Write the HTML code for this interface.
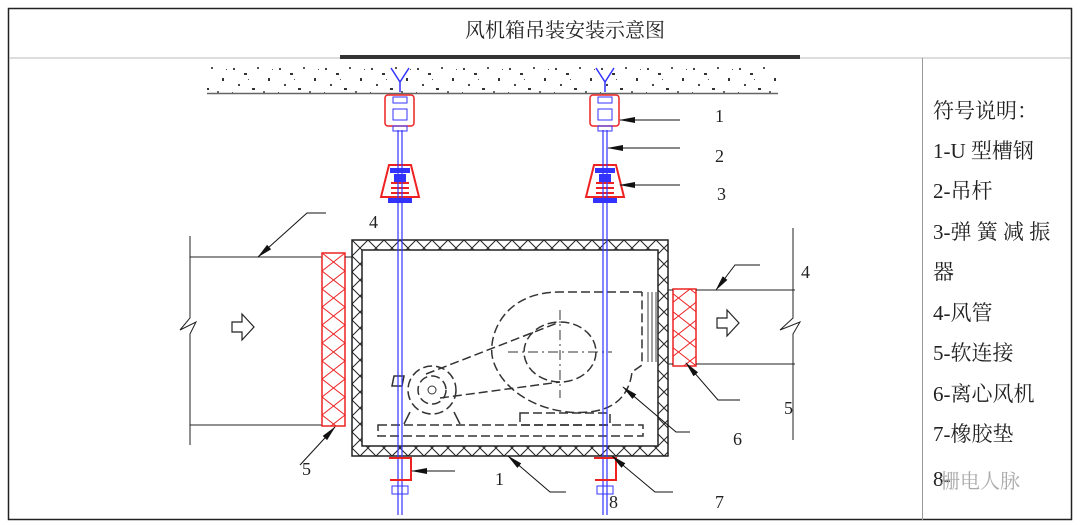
<!DOCTYPE html>
<html><head><meta charset="utf-8"><style>
html,body{margin:0;padding:0;background:#fff}
svg{display:block}
text{font-family:"Liberation Serif","Noto Serif CJK SC",serif;fill:#222}
</style></head><body>
<svg width="1080" height="528" viewBox="0 0 1080 528" xmlns="http://www.w3.org/2000/svg">
<defs>
<pattern id="spk" width="46" height="32" patternUnits="userSpaceOnUse">
<rect x="3" y="4" width="2" height="2" fill="#444"/><rect x="14" y="9" width="3" height="2" fill="#333"/>
<rect x="27" y="3" width="2" height="2" fill="#555"/><rect x="38" y="14" width="2" height="3" fill="#333"/>
<rect x="8" y="20" width="2" height="2" fill="#444"/><rect x="22" y="24" width="3" height="2" fill="#333"/>
<rect x="33" y="27" width="2" height="2" fill="#666"/><rect x="18" y="15" width="1" height="1" fill="#555"/>
<rect x="42" y="5" width="1" height="1" fill="#555"/><rect x="2" y="28" width="1" height="1" fill="#555"/>
</pattern>
<pattern id="xb" width="16" height="16" patternUnits="userSpaceOnUse">
<path d="M0 0L16 16M16 0L0 16" stroke="#222" stroke-width="1"/>
</pattern>
<pattern id="xr" width="23" height="18" patternUnits="userSpaceOnUse" x="322" y="253">
<path d="M0 0L23 18M23 0L0 18" stroke="#e22" stroke-width="1"/>
</pattern>
<marker id="ar" markerWidth="16" markerHeight="8" refX="15" refY="4" orient="auto" markerUnits="userSpaceOnUse">
<path d="M0 1L16 4L0 7Z" fill="#111"/>
</marker>
</defs>
<!-- frame -->
<rect x="8.5" y="8.5" width="1063" height="511" fill="none" stroke="#222" stroke-width="1.5"/>
<line x1="9" y1="58" x2="1071" y2="58" stroke="#bbb" stroke-width="1"/>
<rect x="340" y="55" width="460" height="4" fill="#333"/>
<text x="565" y="37" font-size="20" text-anchor="middle">风机箱吊装安装示意图</text>
<line x1="922.5" y1="58" x2="922.5" y2="520" stroke="#999" stroke-width="1"/>
<!-- legend -->
<g font-size="21">
<text x="933" y="118">符号说明：</text>
<text x="933" y="158">1-U 型槽钢</text>
<text x="933" y="198">2-吊杆</text>
<text x="933" y="239">3-弹 簧 减 振</text>
<text x="933" y="279">器</text>
<text x="933" y="320">4-风管</text>
<text x="933" y="360">5-软连接</text>
<text x="933" y="401">6-离心风机</text>
<text x="933" y="441">7-橡胶垫</text>
<text x="933" y="486">8-</text>
</g>
<text x="940" y="488" font-size="20" style="fill:#aaa" font-family="Noto Sans CJK SC,sans-serif">栅电人脉</text>
<!-- ceiling -->
<rect x="207" y="63" width="571" height="30" fill="url(#spk)"/>
<line x1="207" y1="93.5" x2="778" y2="93.5" stroke="#666" stroke-width="1.5"/>
<!-- ducts left -->
<path d="M190 236V318L180 330L196 322L190 334V445" fill="none" stroke="#222" stroke-width="1"/>
<line x1="190" y1="257" x2="322" y2="257" stroke="#222"/>
<line x1="190" y1="425" x2="322" y2="425" stroke="#222"/>
<path d="M232 322h10v-8l12 13l-12 13v-8h-10z" fill="#fff" stroke="#222" stroke-width="1.2"/>
<rect x="322" y="253" width="23" height="173" fill="url(#xr)" stroke="#e22" stroke-width="1.5"/>
<line x1="345" y1="257" x2="352" y2="257" stroke="#222"/>
<!-- right duct -->
<rect x="673" y="289" width="23" height="77" fill="url(#xr)" stroke="#e22" stroke-width="1.5"/>
<line x1="696" y1="290" x2="795" y2="290" stroke="#222"/>
<line x1="696" y1="364" x2="795" y2="364" stroke="#222"/>
<line x1="668" y1="290" x2="673" y2="290" stroke="#222"/>
<line x1="668" y1="364" x2="673" y2="364" stroke="#222"/>
<path d="M793 228V318L780 330L800 322L793 334V440" fill="none" stroke="#222"/>
<path d="M717 318h10v-8l12 13l-12 13v-8h-10z" fill="#fff" stroke="#222" stroke-width="1.2"/>
<!-- box -->
<path d="M352 240H668V456H352Z M362 250V446H658V250Z" fill="url(#xb)" fill-rule="evenodd" stroke="#222" stroke-width="1.5"/>
<!-- fan -->
<g fill="none" stroke="#333" stroke-width="1.5" stroke-dasharray="9 4">
<path d="M642 292H560C500 292 487 340 493 360C505 400 560 420 600 410C620 405 630 390 632 372L642 365V292"/>
<ellipse cx="560" cy="352" rx="36" ry="30"/>
<circle cx="432" cy="390" r="24"/><circle cx="432" cy="390" r="14"/>
<path d="M426 374L560 322M440 398L560 382"/>
<rect x="378" y="425" width="265" height="11"/>
<rect x="520" y="413" width="90" height="12"/>
</g>
<g stroke="#333" stroke-width="1" stroke-dasharray="10 4 2 4"><line x1="560" y1="310" x2="560" y2="398"/><line x1="508" y1="352" x2="612" y2="352"/></g>
<circle cx="432" cy="390" r="4" fill="none" stroke="#333"/>
<path d="M394 376h10l-2 10h-10z M410 412l-6 12 M454 412l6 12" fill="none" stroke="#333" stroke-width="1.5"/>
<g stroke="#444"><line x1="648" y1="292" x2="648" y2="362"/><line x1="652" y1="292" x2="652" y2="362"/><line x1="656" y1="292" x2="656" y2="362"/></g>
<!-- hangers -->
<g id="h">
<path d="M391 68L400 82L409 68M400 82V92" fill="none" stroke="#33f" stroke-width="1.5"/>
<rect x="385" y="95" width="29" height="31" rx="3" fill="#fff" stroke="#e22" stroke-width="1.5"/>
<rect x="393" y="97" width="14" height="6" fill="none" stroke="#33f"/>
<rect x="393" y="109" width="14" height="11" fill="none" stroke="#33f"/>
<rect x="393" y="126" width="14" height="5" fill="none" stroke="#33f"/>
<path d="M389 165H411L419 197H381Z" fill="#fff" stroke="#e22" stroke-width="2"/>
<rect x="390" y="168" width="20" height="5" fill="#33f"/>
<rect x="394" y="174" width="12" height="8" fill="#33f"/>
<rect x="388" y="198" width="24" height="5" fill="#33f"/>
<g stroke="#e22" stroke-width="2"><line x1="391" y1="183" x2="409" y2="183"/><line x1="391" y1="188" x2="409" y2="188"/><line x1="391" y1="193" x2="409" y2="193"/></g>
<line x1="398" y1="130" x2="398" y2="515" stroke="#33f" stroke-width="1.2"/>
<line x1="402" y1="130" x2="402" y2="515" stroke="#33f" stroke-width="1.2"/>
<path d="M389 458H411V480H390" fill="none" stroke="#e22" stroke-width="2"/>
<rect x="392" y="486" width="16" height="8" fill="none" stroke="#33f"/>
</g>
<use href="#h" x="205"/>
<!-- leaders -->
<g stroke="#111" stroke-width="1" fill="none">
<line x1="680" y1="120" x2="620" y2="120" marker-end="url(#ar)"/>
<line x1="680" y1="148" x2="608" y2="148" marker-end="url(#ar)"/>
<line x1="680" y1="185" x2="620" y2="185" marker-end="url(#ar)"/>
<path d="M326 213H307L258 257" marker-end="url(#ar)"/>
<path d="M760 265H735L716 290" marker-end="url(#ar)"/>
<path d="M300 465L335 427" marker-end="url(#ar)"/>
<path d="M740 400H718L686 363" marker-end="url(#ar)"/>
<path d="M690 432H676L623 387" marker-end="url(#ar)"/>
<path d="M566 492H550L508 456" marker-end="url(#ar)"/>
<path d="M673 492H655L612 456" marker-end="url(#ar)"/>
<line x1="455" y1="471" x2="412" y2="471" marker-end="url(#ar)"/>
</g>
<g font-size="18">
<text x="715" y="122">1</text><text x="715" y="162">2</text><text x="717" y="200">3</text>
<text x="369" y="228">4</text><text x="801" y="278">4</text>
<text x="302" y="475">5</text><text x="784" y="414">5</text>
<text x="733" y="445">6</text><text x="715" y="508">7</text><text x="609" y="508">8</text>
<text x="495" y="485">1</text>
</g>
</svg>
</body></html>
